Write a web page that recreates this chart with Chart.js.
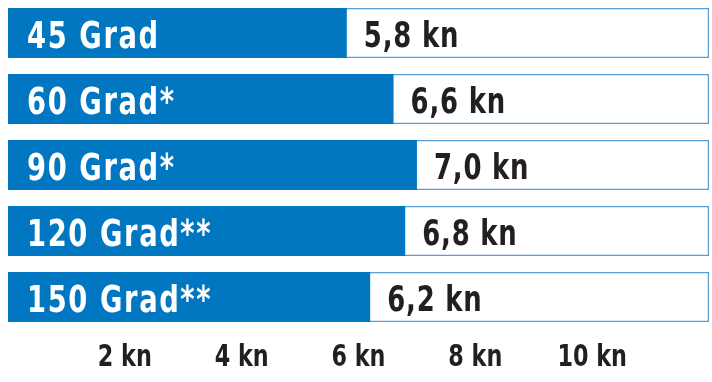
<!DOCTYPE html>
<html>
<head>
<meta charset="utf-8">
<script src="https://cdn.jsdelivr.net/npm/chart.js@4"></script>
<style>
  html, body { margin: 0; padding: 0; background: #fff; }
  canvas { display: block; }
</style>
</head>
<body>
<canvas id="speedChart" width="712" height="382"></canvas>
<script>
const angles = ['45 Grad', '60 Grad*', '90 Grad*', '120 Grad**', '150 Grad**'];
const speeds = [5.8, 6.6, 7.0, 6.8, 6.2];
const scaleMax = 12;
const tickValues = [2, 4, 6, 8, 10];

const FONT = "'DejaVu Sans Condensed', 'DejaVu Sans', sans-serif";
const BLUE = '#0077c0';
const DARK = '#231f20';
const SQUEEZE = 0.8; // the original uses a tall condensed face

function narrowText(ctx, text, x, y, align) {
    ctx.save();
    ctx.translate(x, y);
    ctx.scale(SQUEEZE, 1);
    ctx.textAlign = align;
    ctx.fillText(text, 0, 0);
    ctx.restore();
}

const barLabels = {
    id: 'barLabels',
    afterDraw(chart) {
        const ctx = chart.ctx;
        const meta = chart.getDatasetMeta(0);
        const xScale = chart.scales.x;
        ctx.save();
        ctx.textBaseline = 'alphabetic';
        meta.data.forEach((bar, i) => {
            ctx.font = 'bold 38px ' + FONT;
            ctx.letterSpacing = '2px';
            ctx.fillStyle = '#fff';
            narrowText(ctx, chart.data.labels[i], chart.chartArea.left + 19, bar.y + 15, 'left');

            ctx.font = 'bold 36px ' + FONT;
            ctx.letterSpacing = '1px';
            ctx.fillStyle = DARK;
            const txt = speeds[i].toFixed(1).replace('.', ',') + ' kn';
            narrowText(ctx, txt, bar.x + 17, bar.y + 14, 'left');
        });

        ctx.font = 'bold 31px ' + FONT;
        ctx.letterSpacing = '0px';
        ctx.fillStyle = DARK;
        xScale.ticks.forEach(t => {
            narrowText(ctx, t.value + ' kn', xScale.getPixelForValue(t.value), 366, 'center');
        });
        ctx.restore();
    }
};

new Chart(document.getElementById('speedChart'), {
    type: 'bar',
    data: {
        labels: angles,
        datasets: [{
            data: speeds,
            backgroundColor: BLUE,
            borderWidth: 0,
            grouped: false
        }, {
            data: angles.map(() => scaleMax),
            backgroundColor: '#fff',
            borderColor: '#5a9ed6',
            borderWidth: 1.5,
            borderSkipped: false,
            grouped: false
        }]
    },
    options: {
        indexAxis: 'y',
        responsive: false,
        animation: false,
        devicePixelRatio: 1,
        categoryPercentage: 0.76,
        barPercentage: 1,
        layout: { padding: { left: 8, right: 3, top: 0, bottom: 0 } },
        plugins: {
            legend: { display: false },
            tooltip: { enabled: false }
        },
        scales: {
            y: { display: false },
            x: {
                min: 0,
                max: scaleMax,
                grid: { display: false, drawTicks: false },
                border: { display: false },
                afterFit(axis) { axis.height = 52; },
                afterBuildTicks(axis) {
                    axis.ticks = tickValues.map(v => ({ value: v }));
                },
                ticks: { display: false }
            }
        }
    },
    plugins: [barLabels]
});
</script>
</body>
</html>
